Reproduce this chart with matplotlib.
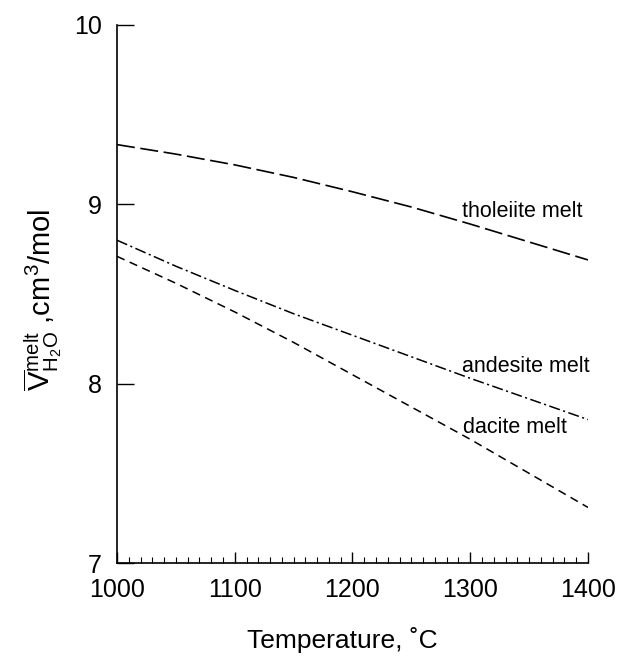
import matplotlib
matplotlib.use("Agg")
import matplotlib.pyplot as plt
from matplotlib.ticker import MultipleLocator

# 温度 [°C]
temperature = [1000, 1050, 1100, 1150, 1200, 1250, 1300, 1350, 1400]
# 部分モル体積 [cm3/mol]
tholeiite = [9.333, 9.28, 9.22, 9.15, 9.07, 8.985, 8.89, 8.79, 8.69]
andesite = [8.80, 8.655, 8.52, 8.39, 8.27, 8.15, 8.03, 7.915, 7.80]
dacite = [8.71, 8.56, 8.40, 8.23, 8.05, 7.87, 7.69, 7.50, 7.31]

labels = ["tholeiite melt", "andesite melt", "dacite melt"]
label_pos = [(1293, 8.96), (1293, 8.095), (1294, 7.755)]

plt.rcParams["font.family"] = ["Liberation Sans", "DejaVu Sans"]
plt.rcParams["mathtext.fontset"] = "custom"
plt.rcParams["mathtext.rm"] = "Liberation Sans"
plt.rcParams["mathtext.it"] = "Liberation Sans:italic"
plt.rcParams["lines.scale_dashes"] = False

fig = plt.figure(figsize=(6.17, 6.57), dpi=100)
ax = fig.add_axes([0.1896, 0.143, 0.7634, 0.819])

ax.plot(temperature, tholeiite, color="black", lw=1.2, dashes=(13, 4))
ax.plot(temperature, andesite, color="black", lw=1.1, dashes=(8, 2.5, 1.5, 2.5))
ax.plot(temperature, dacite, color="black", lw=1.1, dashes=(6, 4))

for text, (x, y) in zip(labels, label_pos):
    ax.text(x, y, text, fontsize=15.5, va="center", ha="left")

ax.set_xlim(1000, 1400)
ax.set_ylim(7, 10)
ax.xaxis.set_major_locator(MultipleLocator(100))
ax.xaxis.set_minor_locator(MultipleLocator(10))
ax.yaxis.set_major_locator(MultipleLocator(1))
ax.tick_params(axis="x", which="major", direction="in", length=8, width=1,
               labelsize=18, pad=11)
ax.tick_params(axis="x", which="minor", direction="in", length=4, width=0.8)
ax.tick_params(axis="y", which="major", direction="in", length=12, width=1,
               labelsize=18, pad=11)
for s in ("top", "right"):
    ax.spines[s].set_visible(False)
for s in ("left", "bottom"):
    ax.spines[s].set_linewidth(1.2)

ax.set_xlabel("Temperature, ˚C", fontsize=19)
ax.xaxis.set_label_coords(0.478, -0.143)
ax.xaxis.label.set_va("center")
ax.set_ylabel(r"$\overline{\mathrm{V}}^{\mathrm{melt}}_{\mathrm{H_2O}}$ ,cm$^3$/mol",
              fontsize=21)
ax.yaxis.set_label_coords(-0.157, 0.49)
ax.yaxis.label.set_va("center")

fig.savefig("out.png", dpi=100)
